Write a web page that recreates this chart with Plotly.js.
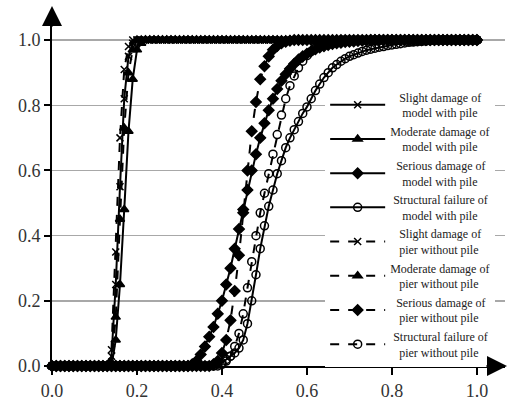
<!DOCTYPE html>
<html>
<head>
<meta charset="utf-8">
<script src="https://cdn.plot.ly/plotly-3.0.1.min.js"></script>
<style>html,body{margin:0;padding:0;background:#fff;}#chart{width:508px;height:400px;}</style>
</head>
<body>
<div id="chart"></div>
<script>
// x values: ground-motion intensity (0.00 .. 1.00)
const xValues = [
  0.00,0.01,0.02,0.03,0.04,0.05,0.06,0.07,0.08,0.09,
  0.10,0.11,0.12,0.13,0.14,0.15,0.16,0.17,0.18,0.19,
  0.20,0.21,0.22,0.23,0.24,0.25,0.26,0.27,0.28,0.29,
  0.30,0.31,0.32,0.33,0.34,0.35,0.36,0.37,0.38,0.39,
  0.40,0.41,0.42,0.43,0.44,0.45,0.46,0.47,0.48,0.49,
  0.50,0.51,0.52,0.53,0.54,0.55,0.56,0.57,0.58,0.59,
  0.60,0.61,0.62,0.63,0.64,0.65,0.66,0.67,0.68,0.69,
  0.70,0.71,0.72,0.73,0.74,0.75,0.76,0.77,0.78,0.79,
  0.80,0.81,0.82,0.83,0.84,0.85,0.86,0.87,0.88,0.89,
  0.90,0.91,0.92,0.93,0.94,0.95,0.96,0.97,0.98,0.99,
  1.00
];

const slightModel = [
  0,0,0,0,0,0,0,0,0,0,
  0,0,0,0,0.03,0.25,0.55,0.82,0.95,0.99,
  1,1,1,1,1,1,1,1,1,1,
  1,1,1,1,1,1,1,1,1,1,
  1,1,1,1,1,1,1,1,1,1,
  1,1,1,1,1,1,1,1,1,1,
  1,1,1,1,1,1,1,1,1,1,
  1,1,1,1,1,1,1,1,1,1,
  1,1,1,1,1,1,1,1,1,1,
  1,1,1,1,1,1,1,1,1,1,
  1
];
const moderateModel = [
  0,0,0,0,0,0,0,0,0,0,
  0,0,0,0,0,0.08,0.25,0.48,0.72,0.88,
  0.97,0.99,1,1,1,1,1,1,1,1,
  1,1,1,1,1,1,1,1,1,1,
  1,1,1,1,1,1,1,1,1,1,
  1,1,1,1,1,1,1,1,1,1,
  1,1,1,1,1,1,1,1,1,1,
  1,1,1,1,1,1,1,1,1,1,
  1,1,1,1,1,1,1,1,1,1,
  1,1,1,1,1,1,1,1,1,1,
  1
];
const seriousModel = [
  0,0,0,0,0,0,0,0,0,0,
  0,0,0,0,0,0,0,0,0,0,
  0,0,0,0,0,0,0,0,0,0,
  0,0,0,0.005,0.015,0.035,0.06,0.09,0.12,0.16,
  0.2,0.25,0.3,0.36,0.42,0.48,0.54,0.6,0.65,0.7,
  0.745,0.785,0.82,0.85,0.875,0.895,0.912,0.927,0.94,0.95,
  0.958,0.966,0.972,0.977,0.981,0.985,0.988,0.99,0.992,0.994,
  0.995,0.996,0.997,0.998,0.999,1,1,1,1,1,
  1,1,1,1,1,1,1,1,1,1,
  1,1,1,1,1,1,1,1,1,1,
  1
];
const failureModel = [
  0,0,0,0,0,0,0,0,0,0,
  0,0,0,0,0,0,0,0,0,0,
  0,0,0,0,0,0,0,0,0,0,
  0,0,0,0,0,0,0,0,0,0.005,
  0.01,0.02,0.03,0.04,0.055,0.08,0.13,0.2,0.28,0.36,
  0.43,0.49,0.54,0.59,0.63,0.67,0.7,0.725,0.75,0.775,
  0.795,0.82,0.845,0.865,0.885,0.9,0.915,0.925,0.935,0.943,
  0.95,0.955,0.96,0.965,0.969,0.972,0.975,0.978,0.98,0.983,
  0.985,0.987,0.989,0.991,0.993,0.994,0.995,0.996,0.997,0.998,
  0.999,1,1,1,1,1,1,1,1,1,
  1
];
const slightPier = [
  0,0,0,0,0,0,0,0,0,0,
  0,0,0,0,0.05,0.35,0.7,0.91,0.98,1,
  1,1,1,1,1,1,1,1,1,1,
  1,1,1,1,1,1,1,1,1,1,
  1,1,1,1,1,1,1,1,1,1,
  1,1,1,1,1,1,1,1,1,1,
  1,1,1,1,1,1,1,1,1,1,
  1,1,1,1,1,1,1,1,1,1,
  1,1,1,1,1,1,1,1,1,1,
  1,1,1,1,1,1,1,1,1,1,
  1
];
const moderatePier = [
  0,0,0,0,0,0,0,0,0,0,
  0,0,0,0,0.01,0.15,0.45,0.73,0.9,0.97,
  1,1,1,1,1,1,1,1,1,1,
  1,1,1,1,1,1,1,1,1,1,
  1,1,1,1,1,1,1,1,1,1,
  1,1,1,1,1,1,1,1,1,1,
  1,1,1,1,1,1,1,1,1,1,
  1,1,1,1,1,1,1,1,1,1,
  1,1,1,1,1,1,1,1,1,1,
  1,1,1,1,1,1,1,1,1,1,
  1
];
const seriousPier = [
  0,0,0,0,0,0,0,0,0,0,
  0,0,0,0,0,0,0,0,0,0,
  0,0,0,0,0,0,0,0,0,0,
  0,0,0,0,0,0,0,0,0.005,0.015,
  0.04,0.08,0.14,0.23,0.34,0.47,0.6,0.72,0.81,0.88,
  0.92,0.95,0.97,0.982,0.99,0.995,0.998,1,1,1,
  1,1,1,1,1,1,1,1,1,1,
  1,1,1,1,1,1,1,1,1,1,
  1,1,1,1,1,1,1,1,1,1,
  1,1,1,1,1,1,1,1,1,1,
  1
];
const failurePier = [
  0,0,0,0,0,0,0,0,0,0,
  0,0,0,0,0,0,0,0,0,0,
  0,0,0,0,0,0,0,0,0,0,
  0,0,0,0,0,0,0,0,0,0,
  0.005,0.015,0.03,0.06,0.1,0.16,0.24,0.32,0.4,0.47,
  0.53,0.59,0.65,0.71,0.77,0.82,0.86,0.89,0.915,0.935,
  0.952,0.965,0.975,0.983,0.989,0.993,0.996,0.998,1,1,
  1,1,1,1,1,1,1,1,1,1,
  1,1,1,1,1,1,1,1,1,1,
  1,1,1,1,1,1,1,1,1,1,
  1
];

const seriesNames = [
  "Slight damage of", "model with pile",
  "Moderate damage of", "model with pile",
  "Serious damage of", "model with pile",
  "Structural failure of", "model with pile",
  "Slight damage of", "pier without pile",
  "Moderate damage of", "pier without pile",
  "Serious damage of", "pier without pile",
  "Structural failure of", "pier without pile"
];
const xTickVals = [0, 0.2, 0.4, 0.6, 0.8, 1.0];
const xTickText = ["0.0", "0.2", "0.4", "0.6", "0.8", "1.0"];
const yTickVals = [0, 0.2, 0.4, 0.6, 0.8, 1.0];
const yTickText = ["0.0", "0.2", "0.4", "0.6", "0.8", "1.0"];

// crude centring of the two-line legend labels with no-break spaces
const NB = "\u00a0";
function pad(s) {
  const widths = {"Slight damage of":3, "model with pile":4, "Moderate damage of":0,
    "Serious damage of":2, "Structural failure of":1, "pier without pile":3};
  return NB.repeat(widths[s] || 0) + s;
}
function label(i) { return pad(seriesNames[2*i]) + "<br>" + pad(seriesNames[2*i+1]); }

const ys = [slightModel, moderateModel, seriousModel, failureModel,
            slightPier, moderatePier, seriousPier, failurePier];
const symbols = ["x-thin-open", "triangle-up", "diamond", "circle-open",
                 "x-thin-open", "triangle-up", "diamond", "circle-open"];
const sizes = [7, 8, 8, 8, 7, 8, 8, 8];

const traces = ys.map((y, i) => ({
  x: xValues, y: y, type: "scatter", mode: "lines+markers",
  name: label(i),
  cliponaxis: false,
  line: {color: "#000", width: 2, dash: i < 4 ? "solid" : "dash"},
  marker: {symbol: symbols[i], size: sizes[i], color: "#000",
           line: {color: "#000", width: 1.5}}
}));

const serif = "Liberation Serif";
const tickFont = {family: serif, size: 18, color: "#333"};
const layout = {
  width: 508, height: 400,
  margin: {l: 52, r: 3, t: 14, b: 34},
  paper_bgcolor: "#fff", plot_bgcolor: "#fff",
  showlegend: true,
  xaxis: {range: [0, 1.066], tickvals: xTickVals, ticktext: xTickText,
          ticks: "outside", ticklen: 7, tickwidth: 2, tickcolor: "#000",
          showline: true, linecolor: "#000", linewidth: 2,
          showgrid: false, zeroline: false, tickfont: tickFont, fixedrange: true},
  yaxis: {range: [0, 1.08], tickvals: yTickVals, ticktext: yTickText,
          ticks: "outside", ticklen: 6, tickwidth: 2, tickcolor: "#000",
          showline: true, linecolor: "#000", linewidth: 2,
          showgrid: true, gridcolor: "#a8a8a8", gridwidth: 1.5,
          zeroline: false, tickfont: tickFont, fixedrange: true},
  legend: {x: 0.603, y: 0.805, xanchor: "left", yanchor: "top",
           bgcolor: "#fff", itemwidth: 55, tracegroupgap: 0,
           font: {family: serif, size: 12, color: "#222"}},
  annotations: [
    {xref: "paper", yref: "paper", x: 0, y: 1.023, ax: 0, ay: 22, text: "",
     showarrow: true, arrowhead: 2, arrowsize: 2, arrowwidth: 2, arrowcolor: "#000"},
    {xref: "paper", yref: "paper", x: 1.0044, y: 0, ax: -22, ay: 0, text: "",
     showarrow: true, arrowhead: 2, arrowsize: 2, arrowwidth: 2, arrowcolor: "#000"}
  ]
};

Plotly.newPlot("chart", traces, layout, {displayModeBar: false, staticPlot: true});
</script>
</body>
</html>
